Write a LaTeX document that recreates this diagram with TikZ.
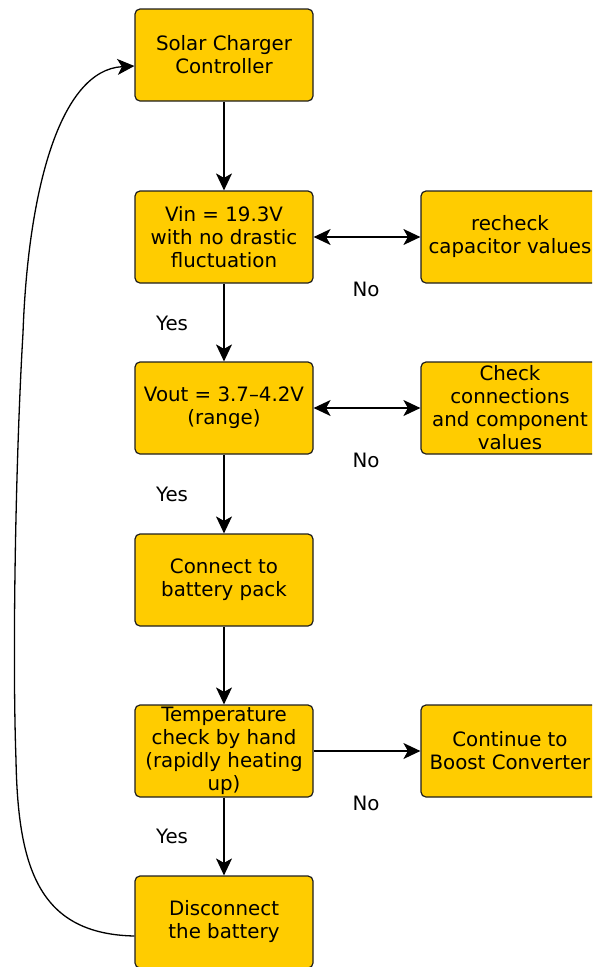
\documentclass[tikz,border=0pt]{standalone}
\usepackage{fontspec}
\setmainfont{DejaVu Sans}
\usetikzlibrary{arrows.meta}
\definecolor{boxfill}{RGB}{255,204,0}
\definecolor{edge}{RGB}{30,30,30}
\tikzset{
  box/.style={draw=edge, fill=boxfill, line width=1.2pt, rounded corners=5pt,
    minimum width=178pt, minimum height=92pt, inner sep=0pt, align=center,
    font=\fontsize{19.8}{23}\selectfont},
  lbl/.style={font=\fontsize{19.8}{23}\selectfont, inner sep=0pt},
  flow/.style={line width=1.3pt, draw=black, -{Stealth[length=17pt,width=16pt,inset=4.5pt]}},
  both/.style={line width=1.3pt, draw=black, {Stealth[length=17pt,width=16pt,inset=4.5pt]}-{Stealth[length=17pt,width=16pt,inset=4.5pt]}},
}
\begin{document}
\begin{tikzpicture}[x=1pt, y=-1pt]
\useasboundingbox (0,0) rectangle (592,967);
\clip (0,0) rectangle (592,967);
% main column
\node[box] (n1) at (224,55)  {Solar Charger\\Controller};
\node[box] (n2) at (224,237) {Vin = 19.3V\\with no drastic\\fluctuation};
\node[box] (n3) at (224,408) {Vout = 3.7–4.2V\\(range)};
\node[box] (n4) at (224,580) {Connect to\\battery pack};
\node[box] (n5) at (224,751) {Temperature\\check by hand\\(rapidly heating\\up)};
\node[box] (n6) at (224,922) {Disconnect\\the battery};
% side column
\node[box] (r1) at (510,237) {recheck\\capacitor values};
\node[box] (r2) at (510,408) {Check\\connections\\and component\\values};
\node[box] (r3) at (510,751) {Continue to\\Boost Converter};
% downward flow
\draw[flow] (n1) -- (n2);
\draw[flow] (n2) -- (n3);
\draw[flow] (n3) -- (n4);
\draw[flow] (n4) -- (n5);
\draw[flow] (n5) -- (n6);
% side branches
\draw[both] (n2) -- (r1);
\draw[both] (n3) -- (r2);
\draw[flow] (n5) -- (r3);
% labels
\node[lbl] (y1) at (172,323) {Yes};
\node[lbl] (y2) at (172,494) {Yes};
\node[lbl] (y3) at (172,836) {Yes};
\node[lbl] (no1) at (366,289) {No};
\node[lbl] (no2) at (366,460) {No};
\node[lbl] (no3) at (366,803) {No};
% loop back to the controller
\coordinate (lb) at (16,760);
\coordinate (lt) at (23,333);
\draw[flow] ([yshift=-14pt]n6.west) .. controls (40,934) and (18,870) .. (lb)
  .. controls (12,650) and (16,450) .. (lt)
  .. controls (28,190) and (60,70) .. ([yshift=-11pt]n1.west);
\end{tikzpicture}
\end{document}
